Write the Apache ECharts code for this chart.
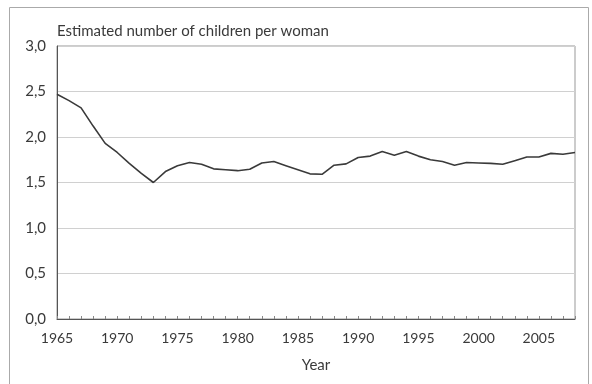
<!DOCTYPE html>
<html>
<head>
<meta charset="utf-8">
<script src="https://cdn.jsdelivr.net/npm/echarts@6/dist/echarts.min.js"></script>
<style>html,body{margin:0;padding:0;background:#fff;}#c{width:592px;height:384px;}</style>
</head>
<body>
<div id="c"></div>
<script>
var years = ['1965','1966','1967','1968','1969','1970','1971','1972','1973','1974','1975','1976','1977','1978','1979','1980','1981','1982','1983','1984','1985','1986','1987','1988','1989','1990','1991','1992','1993','1994','1995','1996','1997','1998','1999','2000','2001','2002','2003','2004','2005','2006','2007','2008'];
var fertility = [2.47,2.40,2.32,2.12,1.93,1.83,1.71,1.60,1.50,1.62,1.685,1.72,1.70,1.65,1.64,1.63,1.645,1.715,1.73,1.685,1.64,1.595,1.59,1.69,1.705,1.775,1.79,1.84,1.80,1.84,1.79,1.75,1.73,1.69,1.72,1.715,1.71,1.70,1.74,1.78,1.78,1.82,1.81,1.83];
var yAxisTitle = 'Estimated number of children per woman';
var xAxisTitle = 'Year';

var FONT = 'Lato';
var chart = echarts.init(document.getElementById('c'), null, {renderer:'canvas'});
chart.setOption({
  animation: false,
  backgroundColor: '#fff',
  graphic: [{
    type: 'rect', shape: {x: 9.5, y: 7.5, width: 579, height: 390},
    style: {fill: 'none', stroke: '#aaa', lineWidth: 1}
  }],
  grid: {left: 57, right: 17, top: 46, bottom: 65, show: true, borderColor: '#999', borderWidth: 1},
  xAxis: {
    type: 'category', data: years, boundaryGap: false,
    name: xAxisTitle, nameLocation: 'middle', nameGap: 39,
    nameTextStyle: {fontFamily: FONT, fontSize: 15, color: '#3a3a3a'},
    axisLine: {lineStyle: {color: '#555', width: 1}},
    axisTick: {show: true, inside: true, interval: 0, length: 3, lineStyle: {color: '#888'}},
    axisLabel: {interval: 4, fontFamily: FONT, fontSize: 14, color: '#3a3a3a', margin: 12},
    splitLine: {show: false}
  },
  yAxis: {
    type: 'value', min: 0, max: 3, interval: 0.5,
    name: yAxisTitle, nameLocation: 'end', nameGap: 7,
    nameTextStyle: {fontFamily: FONT, fontSize: 15, color: '#3a3a3a', align: 'left', verticalAlign: 'bottom'},
    axisLine: {show: true, lineStyle: {color: '#555', width: 1}},
    axisTick: {show: false},
    axisLabel: {fontFamily: FONT, fontSize: 15, color: '#3a3a3a', margin: 11,
      formatter: function(v){ return v.toFixed(1).replace('.', ','); }},
    splitLine: {lineStyle: {color: '#d0d0d0', width: 1}}
  },
  series: [{
    type: 'line', data: fertility, showSymbol: false, symbol: 'none',
    lineStyle: {color: '#3a3a3a', width: 1.6}
  }]
});
</script>
</body>
</html>
